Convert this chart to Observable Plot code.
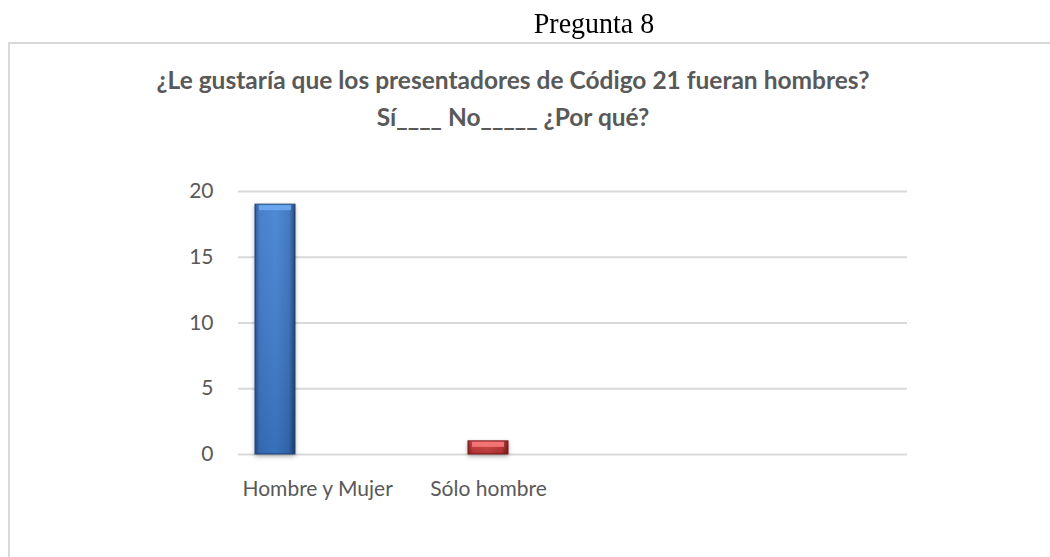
<!DOCTYPE html>
<html>
<head>
<meta charset="utf-8">
<script src="https://cdn.jsdelivr.net/npm/d3@7"></script>
<script src="https://cdn.jsdelivr.net/npm/@observablehq/plot@0.6"></script>
<style>
  body { margin: 0; background: #fff; }
  #page { position: relative; width: 1050px; height: 557px; overflow: hidden; background: #fff; }
  #doc-title { position: absolute; left: 0; width: 1188px; top: 8px; text-align: center;
    font-family: "Liberation Serif", serif; font-size: 28px; color: #000; line-height: 32px; transform: scaleY(1.05); }
  #box { position: absolute; left: 8px; top: 42px; width: 1100px; height: 600px;
    border-top: 2.5px solid #d9d9d9; border-left: 2.5px solid #d9d9d9; }
  #chart-title { position: absolute; left: 0; width: 1026px; top: 61px; text-align: center;
    font-family: Lato, sans-serif; font-weight: bold; font-size: 24.5px; line-height: 37px; color: #595959; }
  #chart { position: absolute; left: 0; top: 170px; }
</style>
</head>
<body>
<div id="page">
  <div id="doc-title"></div>
  <div id="box"></div>
  <div id="chart-title"></div>
  <div id="chart"></div>
</div>
<script>
const docTitle = "Pregunta 8";
const titleLines = ["¿Le gustaría que los presentadores de Código 21 fueran hombres?", "Sí____ No_____ ¿Por qué?"];
const categories = ["Hombre y Mujer", "Sólo hombre"];
const values = [19, 1];
const yTicks = [0, 5, 10, 15, 20];

document.getElementById("doc-title").textContent = docTitle;
const ct = document.getElementById("chart-title");
titleLines.forEach(t => { const d = document.createElement("div"); d.textContent = t; ct.appendChild(d); });

const data = categories.map((c, i) => ({category: c, value: values[i]}));

// styles per bar (not data)
const barStyle = [
  {fill: "url(#gBlue)", stroke: "#1f4478", top: "#6aa6ee"},
  {fill: "url(#gRed)", stroke: "#7e1a1a", top: "#f27474"}
];
const styleOf = d => barStyle[categories.indexOf(d.category)];

const chart = Plot.plot({
  width: 1050,
  height: 354,
  marginLeft: 238,
  marginRight: 143,
  marginTop: 21,
  marginBottom: 70,
  style: {fontFamily: "Lato, sans-serif", background: "transparent", overflow: "visible"},
  x: {type: "band", domain: categories, paddingInner: 0.813, paddingOuter: 0.97, align: 0.041, axis: null},
  y: {domain: [0, 20], axis: null},
  color: {type: "identity"},
  marks: [
    Plot.ruleY(yTicks, {stroke: "#d9d9d9", strokeWidth: 1.8}),
    Plot.axisY(yTicks, {tickSize: 0, tickPadding: 25, fontSize: 21, fill: "#595959", label: null}),
    Plot.barY(data, {x: "category", y: "value", fill: d => styleOf(d).fill, stroke: d => styleOf(d).stroke, strokeWidth: 1, className: "bars"}),
    Plot.barY(data, {x: "category", y: "value", fill: "url(#gShade)", insetLeft: 1, insetRight: 1}),
    Plot.tickY(data, {x: "category", y: "value", stroke: d => styleOf(d).top, strokeWidth: 5, dy: 3, insetLeft: 4, insetRight: 4}),
    Plot.text(data, {filter: d => d.category === categories[0], x: "category", text: "category", frameAnchor: "bottom", dy: 41, dx: -33, textAnchor: "start", fontSize: 21, fill: "#595959"}),
    Plot.text(data, {filter: d => d.category !== categories[0], x: "category", text: "category", frameAnchor: "bottom", dy: 41, textAnchor: "middle", fontSize: 21, fill: "#595959"})
  ]
});

const svg = d3.select(chart);
const defs = svg.insert("defs", ":first-child");
function hGrad(id, stops) {
  const g = defs.append("linearGradient").attr("id", id).attr("x1", 0).attr("x2", 1).attr("y1", 0).attr("y2", 0);
  stops.forEach(([o, c]) => g.append("stop").attr("offset", o).attr("stop-color", c));
}
hGrad("gBlue", [[0, "#24508f"], [0.12, "#3a76c6"], [0.5, "#3f80d2"], [0.85, "#3670bd"], [1, "#1c3f72"]]);
hGrad("gRed", [[0, "#8e2020"], [0.12, "#c23636"], [0.5, "#cc3d3d"], [0.85, "#b83232"], [1, "#7a1818"]]);
const v = defs.append("linearGradient").attr("id", "gShade").attr("x1", 0).attr("x2", 0).attr("y1", 0).attr("y2", 1);
v.append("stop").attr("offset", 0).attr("stop-color", "#ffffff").attr("stop-opacity", 0.08);
v.append("stop").attr("offset", 1).attr("stop-color", "#000000").attr("stop-opacity", 0.12);
const f = defs.append("filter").attr("id", "shadow").attr("x", "-30%").attr("y", "-10%").attr("width", "160%").attr("height", "130%");
f.append("feDropShadow").attr("dx", 0).attr("dy", 2).attr("stdDeviation", 2).attr("flood-color", "#000").attr("flood-opacity", 0.3);
svg.selectAll("g.bars").attr("filter", "url(#shadow)");

document.getElementById("chart").appendChild(chart);
</script>
</body>
</html>
